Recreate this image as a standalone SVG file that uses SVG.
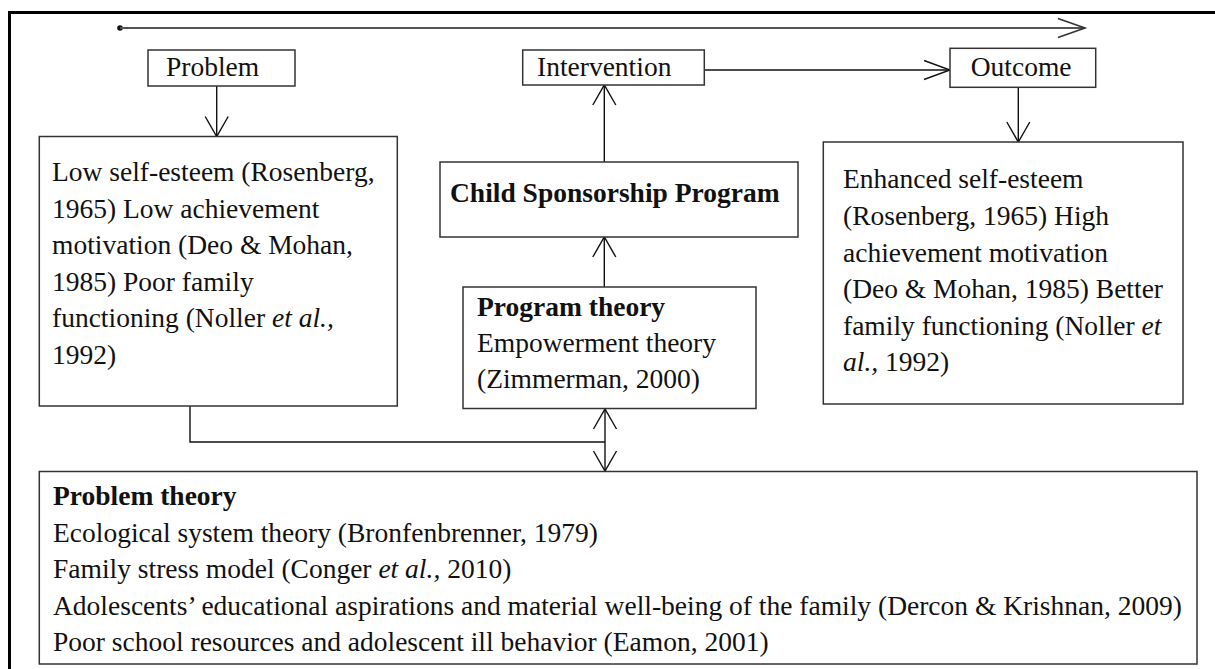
<svg xmlns="http://www.w3.org/2000/svg" width="1215" height="669" viewBox="0 0 1215 669">
  <style>
    .box { fill: #ffffff; stroke: #333333; stroke-width: 1.5; }
    .txt { font-family: "Liberation Serif", "Times New Roman", serif; font-size: 27.5px; fill: #111111; }
    .b { font-weight: bold; }
    .conn { fill: none; stroke: #111111; stroke-width: 1.4; }
    .topline { fill: none; stroke: #555555; stroke-width: 2; }
  </style>
  <defs>
    <marker id="ah" markerUnits="userSpaceOnUse" markerWidth="40" markerHeight="40" refX="0" refY="0" orient="auto-start-reverse" overflow="visible">
      <path d="M -20,-11.5 L 0,0 L -20,11.5" fill="none" stroke="#111111" stroke-width="1.4"/>
    </marker>
    <marker id="ahLong" markerUnits="userSpaceOnUse" markerWidth="40" markerHeight="40" refX="0" refY="0" orient="auto" overflow="visible">
      <path d="M -26,-9.5 L 0,0 L -26,9.5" fill="none" stroke="#111111" stroke-width="1.4"/>
    </marker>
    <marker id="ahTop" markerUnits="userSpaceOnUse" markerWidth="40" markerHeight="40" refX="0" refY="0" orient="auto" overflow="visible">
      <path d="M -27,-9.5 L 0,0 L -27,9.5" fill="none" stroke="#333333" stroke-width="1.6"/>
    </marker>
  </defs>

  <rect id="frame" x="9.5" y="12.5" width="1230" height="680" fill="#ffffff" stroke="#000000" stroke-width="3"/>

  <g id="connectors">
    <circle cx="120" cy="28" r="2.8" fill="#111111"/>
    <path class="topline" d="M120,28 H1085" marker-end="url(#ahTop)"/>
    <path class="conn" d="M216.7,86 V136.5" marker-end="url(#ah)"/>
    <path class="conn" d="M1018.3,87.3 V142" marker-end="url(#ah)"/>
    <path class="conn" d="M704.3,70 H950" marker-end="url(#ahLong)"/>
    <path class="conn" d="M604.3,162 V85" marker-end="url(#ah)"/>
    <path class="conn" d="M604.3,287 V237" marker-end="url(#ah)"/>
    <path class="conn" d="M190,406 V442 H605"/>
    <path class="conn" d="M605,409 V471" marker-start="url(#ah)" marker-end="url(#ah)"/>
  </g>

  <g id="problem">
    <rect class="box" x="148" y="50" width="147" height="36"/>
    <text class="txt" x="166" y="76">Problem</text>
  </g>

  <g id="intervention">
    <rect class="box" x="522.7" y="50" width="181.6" height="35"/>
    <text class="txt" x="537" y="76">Intervention</text>
  </g>

  <g id="outcome">
    <rect class="box" x="950" y="48.3" width="145.7" height="39"/>
    <text class="txt" x="970.7" y="76">Outcome</text>
  </g>

  <g id="problem-details">
    <rect class="box" x="39.3" y="136.5" width="358" height="269.5"/>
    <text class="txt" x="52">
      <tspan x="52" y="181">Low self-esteem (Rosenberg,</tspan>
      <tspan x="52" y="217.5">1965) Low achievement</tspan>
      <tspan x="52" y="254">motivation (Deo &amp; Mohan,</tspan>
      <tspan x="52" y="290.5">1985) Poor family</tspan>
      <tspan x="52" y="327">functioning (Noller <tspan font-style="italic">et al.,</tspan></tspan>
      <tspan x="52" y="363.5">1992)</tspan>
    </text>
  </g>

  <g id="child-sponsorship">
    <rect class="box" x="440" y="162" width="358" height="75"/>
    <text class="txt b" x="450" y="202">Child Sponsorship Program</text>
  </g>

  <g id="program-theory">
    <rect class="box" x="463" y="287" width="293" height="121.5"/>
    <text class="txt b" x="477" y="316">Program theory</text>
    <text class="txt" x="477" y="352">Empowerment theory</text>
    <text class="txt" x="477" y="388">(Zimmerman, 2000)</text>
  </g>

  <g id="outcome-details">
    <rect class="box" x="823.3" y="142" width="359.7" height="262"/>
    <text class="txt">
      <tspan x="843" y="188">Enhanced self-esteem</tspan>
      <tspan x="843" y="225">(Rosenberg, 1965) High</tspan>
      <tspan x="843" y="261.5">achievement motivation</tspan>
      <tspan x="843" y="298">(Deo &amp; Mohan, 1985) Better</tspan>
      <tspan x="843" y="334.5">family functioning (Noller <tspan font-style="italic">et</tspan></tspan>
      <tspan x="843" y="371"><tspan font-style="italic">al.,</tspan> 1992)</tspan>
    </text>
  </g>

  <g id="problem-theory">
    <rect class="box" x="39.3" y="471.5" width="1157.7" height="192.5"/>
    <text class="txt b" x="53" y="505">Problem theory</text>
    <text class="txt">
      <tspan x="53" y="541.5">Ecological system theory (Bronfenbrenner, 1979)</tspan>
      <tspan x="53" y="578">Family stress model (Conger <tspan font-style="italic">et al.,</tspan> 2010)</tspan>
      <tspan x="53" y="614.5">Adolescents’ educational aspirations and material well-being of the family (Dercon &amp; Krishnan, 2009)</tspan>
      <tspan x="53" y="651">Poor school resources and adolescent ill behavior (Eamon, 2001)</tspan>
    </text>
  </g>
</svg>
